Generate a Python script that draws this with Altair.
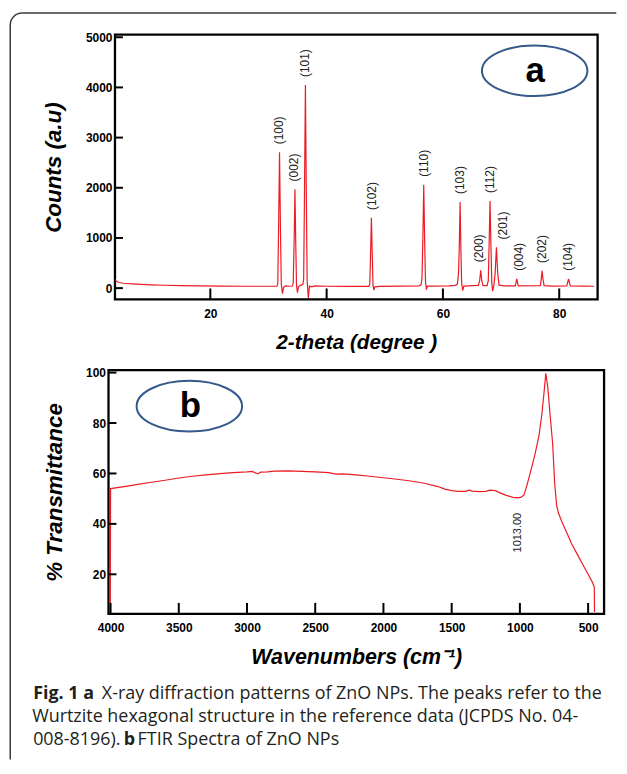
import altair as alt
import pandas as pd

# ---------------- data ----------------
xrd_two_theta = [3.6, 3.9, 4.3, 5.0, 6.0, 8.0, 10.0, 12.0, 15.0, 18.0, 22.0, 26.0, 30.0,
                 31.45, 31.6, 31.75, 31.9, 32.05, 32.2, 32.4, 32.6, 32.9, 33.6,
                 34.1, 34.25, 34.42, 34.55, 34.68, 34.82, 34.98, 35.15, 35.5, 35.9,
                 36.05, 36.2, 36.35, 36.5, 36.65, 36.85, 37.05, 37.4, 38.0, 40.0, 44.0,
                 47.25, 47.42, 47.56, 47.7, 47.84, 47.98, 48.12, 48.3, 49.0, 53.0,
                 55.9, 56.25, 56.4, 56.55, 56.7, 56.85, 57.0, 57.15, 57.35, 58.0, 61.0,
                 62.1, 62.5, 62.68, 62.82, 62.95, 63.08, 63.22, 63.4, 63.6, 65.0,
                 66.1, 66.32, 66.5, 66.68, 66.9, 67.6,
                 67.8, 67.95, 68.1, 68.25, 68.4, 68.56, 68.75,
                 68.98, 69.2, 69.42, 69.65, 70.6,
                 72.45, 72.7, 72.95, 76.75, 76.9, 77.05, 77.2, 77.4, 79.0,
                 81.3, 81.6, 81.9, 84.0, 86.0]
xrd_counts = [170, 135, 112, 97, 88, 76, 66, 58, 50, 45, 41, 38, 37,
              40, 90, 1300, 2707, 1250, 90, -110, 15, 45, 38,
              42, 90, 1000, 1968, 950, 60, -90, 25, 55, 70,
              180, 2000, 4048, 1950, 150, -200, 40, 25, 45, 38, 36,
              36, 80, 700, 1400, 680, 60, -40, 25, 36, 40,
              45, 70, 200, 1000, 2059, 980, 140, -30, 40, 40, 45,
              55, 80, 300, 850, 1717, 830, 110, -50, 40, 50,
              55, 150, 356, 150, 50, 50,
              150, 900, 1737, 880, 110, -60, 50,
              300, 812, 300, 60, 45,
              45, 186, 45, 50, 180, 344, 180, 50, 40,
              45, 186, 45, 40, 38]

hkl_labels = ["(100)", "(002)", "(101)", "(102)", "(110)", "(103)",
              "(200)", "(112)", "(201)", "(004)", "(202)", "(104)"]
hkl_label_two_theta = [31.8, 34.4, 36.2, 47.85, 56.75, 63.0, 66.2, 68.15, 70.4, 73.0, 77.0, 81.55]
hkl_peak_counts = [2707, 1968, 4048, 1400, 2059, 1717, 356, 1737, 812, 186, 344, 186]

ftir_wavenumber = [4002, 4000, 3900, 3800, 3700, 3600, 3500, 3400, 3300, 3200, 3100, 3000,
                   2960, 2940, 2920, 2900, 2850, 2800, 2700, 2600, 2500, 2400, 2350, 2300,
                   2200, 2100, 2000, 1900, 1800, 1700, 1600, 1550, 1500, 1450, 1400, 1370,
                   1350, 1300, 1250, 1220, 1180, 1150, 1100, 1050, 1013, 990, 970, 950,
                   920, 890, 860, 840, 825, 810, 795, 780, 760, 745, 730, 715, 690, 660,
                   620, 580, 540, 500, 470, 455, 453]
ftir_transmittance = [4.3, 54.0, 54.8, 55.7, 56.5, 57.3, 58.2, 58.9, 59.4, 59.9, 60.3, 60.6,
                      60.8, 60.2, 59.9, 60.5, 60.6, 60.9, 61.0, 60.8, 60.6, 60.3, 59.7, 59.8,
                      59.4, 58.9, 58.3, 57.7, 57.0, 56.1, 54.8, 53.8, 53.2, 52.9, 52.9, 53.4,
                      53.0, 52.8, 52.9, 53.4, 53.2, 52.4, 51.3, 50.5, 50.3, 50.6, 51.5, 55.0,
                      61.0, 67.5, 75.0, 83.0, 91.0, 99.7, 94.0, 84.0, 72.0, 56.0, 47.0, 44.0,
                      40.5, 37.0, 32.0, 28.0, 24.0, 20.0, 17.0, 15.0, 5.0]
ftir_label_text = ["1013.00"]
ftir_label_wavenumber = [1013]
ftir_label_transmittance = [50.3]

xrd_x_ticks = [20, 40, 60, 80]
xrd_y_ticks = [0, 1000, 2000, 3000, 4000, 5000]
ftir_x_ticks = [4000, 3500, 3000, 2500, 2000, 1500, 1000, 500]
ftir_y_ticks = [20, 40, 60, 80, 100]

caption_line1_bold = "Fig. 1 a"
caption_line1_rest = "X-ray diffraction patterns of ZnO NPs. The peaks refer to the"
caption_line2 = "Wurtzite hexagonal structure in the reference data (JCPDS No. 04-"
caption_line3_a = "008-8196)."
caption_line3_bold = "b"
caption_line3_rest = "FTIR Spectra of ZnO NPs"

# ---------------- layout / style ----------------
FONT = "Liberation Sans"
CAPFONT = "Open Sans"
RED = "#ec1c24"
BLUE = "#34598a"
FRAME = "#3a3a3a"
WA, HA = 485, 266
WB, HB = 498, 245
SPACING = 71
AX0, AY0 = 114.25, 31.75          # page position of panel a plot origin
BX0, BY0 = AX0 - (WB - WA) / 2, AY0 + HA + SPACING
ELLIPSE = "M -1 0 A 1 0.48 0 1 0 1 0 A 1 0.48 0 1 0 -1 0 Z"

one = pd.DataFrame({"k": [0]})


def ax(values, title, lab_pad, title_pad, tsize):
    return alt.Axis(values=values, title=title, format="d", domain=False, ticks=False,
                    grid=False, labelFont=FONT, labelFontSize=12, labelFontWeight="bold",
                    labelColor="black", labelPadding=lab_pad, labelFlush=False,
                    labelOverlap=False, titleFont=FONT, titleFontSize=tsize,
                    titleFontWeight="bold", titleFontStyle="italic", titleColor="black",
                    titlePadding=title_pad)


# ---------------- outer rounded frame (left / top sides) ----------------
R = 12
frame_parts = [
    alt.Chart(one).mark_rule(color=FRAME, strokeWidth=1.5).encode(
        x=alt.value(9 + R - AX0), x2=alt.value(618 - AX0), y=alt.value(10 - AY0)),
    alt.Chart(one).mark_rule(color=FRAME, strokeWidth=1.5).encode(
        x=alt.value(9 - AX0), y=alt.value(10 + R - AY0), y2=alt.value(760 - AY0)),
    alt.Chart(one).mark_arc(color=FRAME, theta=4.7124, theta2=6.2832,
                            radius=R + 0.75, radius2=R - 0.75).encode(
        x=alt.value(9 + R - AX0), y=alt.value(10 + R - AY0)),
]

# ---------------- panel a : XRD ----------------
xa = alt.Scale(domain=[3.6, 86.6], nice=False, zero=False)
ya = alt.Scale(domain=[-225, 5050], nice=False, zero=False)
axa_x = ax(xrd_x_ticks, "2-theta (degree )", 9, 13, 20.8)
axa_y = ax(xrd_y_ticks, "Counts (a.u)", 3, 20, 22.5)

df_xrd = pd.DataFrame({"t": xrd_two_theta, "c": xrd_counts})
df_hkl = pd.DataFrame({"h": hkl_labels, "t": hkl_label_two_theta, "c": hkl_peak_counts})

xrd_line = alt.Chart(df_xrd).mark_line(color=RED, strokeWidth=1.2).encode(
    x=alt.X("t:Q", scale=xa, axis=axa_x),
    y=alt.Y("c:Q", scale=ya, axis=axa_y),
)
xa_ticks = alt.Chart(pd.DataFrame({"t": xrd_x_ticks})).mark_rule(
    color="black", strokeWidth=2).encode(
    x=alt.X("t:Q", scale=xa, axis=axa_x), y=alt.value(HA), y2=alt.value(HA - 11))
ya_ticks = alt.Chart(pd.DataFrame({"c": xrd_y_ticks})).mark_rule(
    color="black", strokeWidth=2).encode(
    y=alt.Y("c:Q", scale=ya, axis=axa_y), x=alt.value(0), x2=alt.value(8))
hkl_text = alt.Chart(df_hkl).mark_text(
    angle=270, align="left", baseline="middle", dx=8, font=FONT, fontSize=12,
    color="#222222").encode(
    x=alt.X("t:Q", scale=xa, axis=axa_x), y=alt.Y("c:Q", scale=ya, axis=axa_y), text="h:N")

ell_a = alt.Chart(one).mark_point(
    shape=ELLIPSE, size=106 ** 2, filled=False, stroke=BLUE, strokeWidth=2, opacity=1
).encode(x=alt.value(536 - AX0), y=alt.value(68 - AY0))
let_a = alt.Chart(one).mark_text(
    text="a", font=FONT, fontSize=35, fontWeight="bold", color="black",
    align="center", baseline="middle").encode(x=alt.value(536.5 - AX0), y=alt.value(68 - AY0))

panel_a = alt.layer(*frame_parts, xrd_line, xa_ticks, ya_ticks, hkl_text, ell_a, let_a).properties(
    width=WA, height=HA)

# ---------------- panel b : FTIR ----------------
xb = alt.Scale(domain=[4015, 383], nice=False, zero=False)
yb = alt.Scale(domain=[4.3, 101], nice=False, zero=False)
axb_x = ax(ftir_x_ticks, "Wavenumbers (cm\u207b\u00b9)", 9, 13, 21.5)
axb_y = ax(ftir_y_ticks, "% Transmittance", 3, 19, 22.5)

df_ftir = pd.DataFrame({"w": ftir_wavenumber, "p": ftir_transmittance})
df_lab = pd.DataFrame({"s": ftir_label_text, "w": ftir_label_wavenumber, "p": ftir_label_transmittance})

ftir_line = alt.Chart(df_ftir).mark_line(color=RED, strokeWidth=1.2).encode(
    x=alt.X("w:Q", scale=xb, axis=axb_x),
    y=alt.Y("p:Q", scale=yb, axis=axb_y),
    order=alt.Order("w:Q", sort="descending"),
)
xb_ticks = alt.Chart(pd.DataFrame({"w": ftir_x_ticks})).mark_rule(
    color="black", strokeWidth=2).encode(
    x=alt.X("w:Q", scale=xb, axis=axb_x), y=alt.value(HB), y2=alt.value(HB - 11))
yb_ticks = alt.Chart(pd.DataFrame({"p": ftir_y_ticks})).mark_rule(
    color="black", strokeWidth=2).encode(
    y=alt.Y("p:Q", scale=yb, axis=axb_y), x=alt.value(0), x2=alt.value(8))
ftir_text = alt.Chart(df_lab).mark_text(
    angle=270, align="right", baseline="middle", dx=-15, font=FONT, fontSize=11,
    color="#222222").encode(
    x=alt.X("w:Q", scale=xb, axis=axb_x), y=alt.Y("p:Q", scale=yb, axis=axb_y), text="s:N")

ell_b = alt.Chart(one).mark_point(
    shape=ELLIPSE, size=106 ** 2, filled=False, stroke=BLUE, strokeWidth=2, opacity=1
).encode(x=alt.value(189 - BX0), y=alt.value(405 - BY0))
let_b = alt.Chart(one).mark_text(
    text="b", font=FONT, fontSize=35, fontWeight="bold", color="black",
    align="center", baseline="middle").encode(x=alt.value(190 - BX0), y=alt.value(405 - BY0))


def cap(text, px, py, bold=False):
    return alt.Chart(one).mark_text(
        text=text, font=CAPFONT, fontSize=18, fontWeight="bold" if bold else "normal",
        color="#231f20", align="left", baseline="alphabetic").encode(
        x=alt.value(px - BX0), y=alt.value(py - BY0))


captions = [
    cap(caption_line1_bold, 32, 699.5, True),
    cap(caption_line1_rest, 101, 699.5),
    cap(caption_line2, 31, 722.5),
    cap(caption_line3_a, 32, 745.5),
    cap(caption_line3_bold, 123, 745.5, True),
    cap(caption_line3_rest, 137, 745.5),
]

panel_b = alt.layer(ftir_line, xb_ticks, yb_ticks, ftir_text, ell_b, let_b, *captions).properties(
    width=WB, height=HB)

chart = alt.vconcat(panel_a, panel_b, spacing=SPACING, bounds="flush", center=True).properties(
    padding={"left": 0, "top": 1, "right": 0, "bottom": 0}, background="white"
).configure_view(stroke="black", strokeWidth=2.3)

chart.save("out.html", embed_options={"renderer": "svg", "actions": False})
